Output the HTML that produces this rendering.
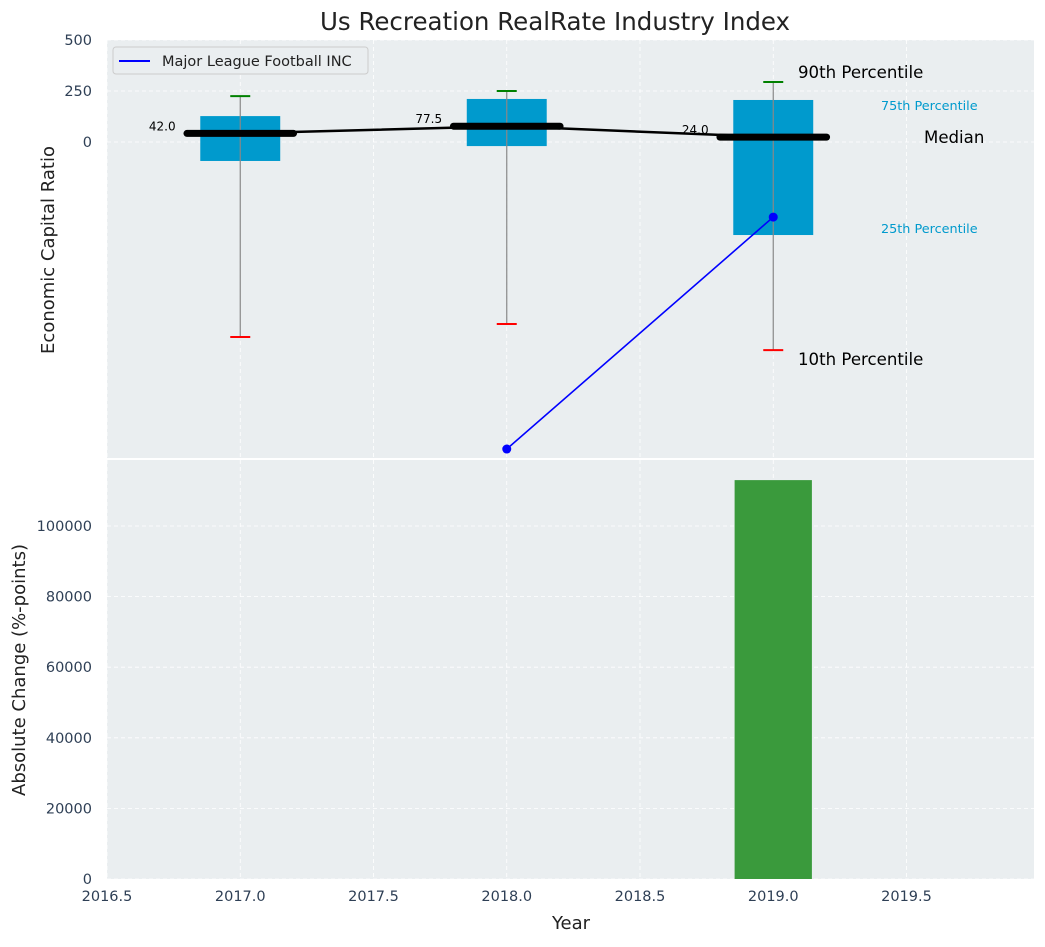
<!DOCTYPE html>
<html><head><meta charset="utf-8"><style>
body{margin:0;background:#fff;font-family:"Liberation Sans","DejaVu Sans",sans-serif}
svg text{font-family:"DejaVu Sans","Liberation Sans",sans-serif}
</style></head><body>
<svg id="c" width="1045" height="942" xmlns="http://www.w3.org/2000/svg"></svg>
<script>
const years=[2017,2018,2019];
const q75=[127,211,206];
const q25=[-93,-20,-456];
const p90=[225,250,294];
const p10=[-956,-892,-1020];
const medians=[42.0,77.5,24.0];
const companyYears=[2018,2019];
const companyValues=[-1505,-368];
const barYears=[2019];
const barValues=[113000];
const topTicks=[0,250,500];
const botTicks=[0,20000,40000,60000,80000,100000];
const xTicks=[2016.5,2017,2017.5,2018,2018.5,2019,2019.5];

const NS="http://www.w3.org/2000/svg";
const svg=document.getElementById('c');
function el(t,a,p){const e=document.createElementNS(NS,t);for(const k in a)e.setAttribute(k,a[k]);(p||svg).appendChild(e);return e;}
const L=107,R=1034;
const x=v=>L+(v-2016.5)*266.5;
const yT=v=>142-v*51/250;
const T1=40,B1=459,T2=459,B2=879;
const yB=v=>879-v*353/100000;

let g=el('rect',{x:L,y:T1,width:R-L,height:B1-T1,fill:'#eaeef0'});

g=el('rect',{x:L,y:T2,width:R-L,height:B2-T2,fill:'#eaeef0'});

el('line',{x1:L,x2:R,y1:459,y2:459,stroke:'#fff','stroke-width':2});

xTicks.forEach(v=>{
 el('line',{x1:x(v),x2:x(v),y1:T1,y2:B2,stroke:'#fff','stroke-dasharray':'4,3','stroke-width':0.8});
 const t=el('text',{x:x(v),y:901,'text-anchor':'middle','font-size':14.5,fill:'#2e3f55'});t.textContent=v.toFixed(1);
 
});
topTicks.forEach(v=>{
 el('line',{x1:L,x2:R,y1:yT(v),y2:yT(v),stroke:'#fff','stroke-dasharray':'4,3','stroke-width':0.8});
 const t=el('text',{x:92,y:yT(v)+5,'text-anchor':'end','font-size':14.5,fill:'#2e3f55'});t.textContent=v;
 
});
botTicks.forEach(v=>{
 el('line',{x1:L,x2:R,y1:yB(v),y2:yB(v),stroke:'#fff','stroke-dasharray':'4,3','stroke-width':0.8});
 const t=el('text',{x:92,y:yB(v)+5,'text-anchor':'end','font-size':14.5,fill:'#2e3f55'});t.textContent=v;
 
});

years.forEach((yr,i)=>{
 const cx=x(yr),hw=0.15*266.5;
 let r=el('rect',{x:cx-hw,y:yT(q75[i]),width:2*hw,height:yT(q25[i])-yT(q75[i]),fill:'#009acd'});
 
 el('line',{x1:cx,x2:cx,y1:yT(p90[i]),y2:yT(p10[i]),stroke:'#888','stroke-width':1.2});
 el('line',{x1:cx-10,x2:cx+10,y1:yT(p90[i]),y2:yT(p90[i]),stroke:'green','stroke-width':2});
 el('line',{x1:cx-10,x2:cx+10,y1:yT(p10[i]),y2:yT(p10[i]),stroke:'red','stroke-width':2});
 let m=el('line',{x1:cx-0.2*266.5,x2:cx+0.2*266.5,y1:yT(medians[i]),y2:yT(medians[i]),stroke:'#000','stroke-width':7,'stroke-linecap':'round'});
 
 const t=el('text',{x:cx-78,y:yT(medians[i])-3,'text-anchor':'middle','font-size':12,fill:'#000'});t.textContent=medians[i].toFixed(1);
 
});
let ml=el('polyline',{points:years.map((y,i)=>x(y)+','+yT(medians[i])).join(' '),fill:'none',stroke:'#000','stroke-width':2.5});


let cl=el('polyline',{points:companyYears.map((y,i)=>x(y)+','+yT(companyValues[i])).join(' '),fill:'none',stroke:'blue','stroke-width':1.6});

companyYears.forEach((y,i)=>{const c=el('circle',{cx:x(y),cy:yT(companyValues[i]),r:4.5,fill:'blue'});
 });

const ann=[[798,78,'90th Percentile',16.6,'#000'],[881,110,'75th Percentile',12.8,'#009acd'],[924,143,'Median',16.6,'#000'],[881,233,'25th Percentile',12.8,'#009acd'],[798,365,'10th Percentile',16.6,'#000']];
ann.forEach(a=>{const t=el('text',{x:a[0],y:a[1],'font-size':a[3],fill:a[4]});t.textContent=a[2];
 });

barYears.forEach((yr,i)=>{const b=el('rect',{x:x(yr)-0.145*266.5,y:yB(barValues[i]),width:0.29*266.5,height:yB(0)-yB(barValues[i]),fill:'#3a9a3c'});
 });

let lg=el('g',{});
el('rect',{x:113,y:47,width:255,height:27,rx:3,fill:'#eaeef0',stroke:'#ccc'},lg);
el('line',{x1:119,x2:150,y1:61,y2:61,stroke:'blue','stroke-width':2},lg);
let lt=el('text',{x:162,y:66,'font-size':14.5,fill:'#222'},lg);lt.textContent='Major League Football INC';

let t=el('text',{x:555,y:30,'text-anchor':'middle','font-size':24.5,fill:'#222'});t.textContent='Us Recreation RealRate Industry Index';

t=el('text',{x:571,y:929,'text-anchor':'middle','font-size':18,fill:'#222'});t.textContent='Year';

t=el('text',{x:0,y:0,'text-anchor':'middle','font-size':18,fill:'#222',transform:'translate(54,250) rotate(-90)'});t.textContent='Economic Capital Ratio';

t=el('text',{x:0,y:0,'text-anchor':'middle','font-size':18,fill:'#222',transform:'translate(25,670) rotate(-90)'});t.textContent='Absolute Change (%-points)';

</script>
</body></html>
